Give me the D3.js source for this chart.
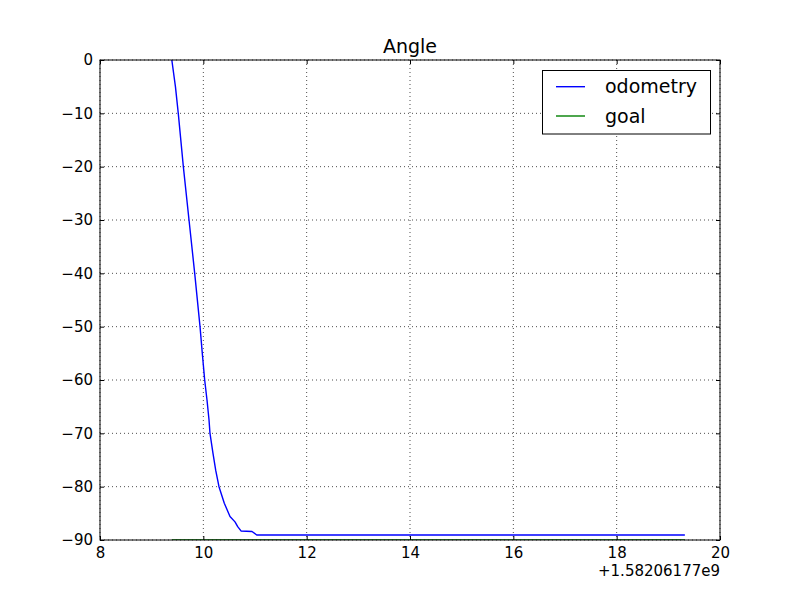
<!DOCTYPE html>
<html>
<head>
<meta charset="utf-8">
<script src="https://cdn.jsdelivr.net/npm/d3@7"></script>
<style>
  body { margin: 0; background: #fff; }
  svg { display: block; }
  text { font-family: "DejaVu Sans", sans-serif; fill: #000; }
</style>
</head>
<body>
<script>
// Data (time offsets relative to 1.58206177e9)
const odomTime  = [9.39, 9.46, 9.515, 9.613, 9.723, 9.833, 9.936, 9.98, 10.026, 10.071, 10.110, 10.129, 10.187, 10.239, 10.303, 10.406, 10.516, 10.613, 10.665, 10.729, 10.942, 11.033, 19.32];
const odomAngle = [0, -5, -10, -20, -30, -40, -50, -55, -60, -63.75, -67.5, -70, -73.75, -76.9, -80, -83.1, -85.6, -86.6, -87.5, -88.3, -88.4, -89.06, -89.06];
const goalTime  = [9.39, 19.32];
const goalAngle = [-90, -90];
const xTicks = [8, 10, 12, 14, 16, 18, 20];
const yTicks = [0, -10, -20, -30, -40, -50, -60, -70, -80, -90];
const seriesNames = ["odometry", "goal"];
const seriesColors = ["#0000ff", "#008000"];
const titleText = "Angle";
const offsetText = "+1.58206177e9";

const W = 800, H = 600;
const m = { left: 100, right: 720, top: 60, bottom: 540 };

const svg = d3.select("body").append("svg").attr("width", W).attr("height", H);

const x = d3.scaleLinear().domain([8, 20]).range([m.left, m.right]);
const y = d3.scaleLinear().domain([-90, 0]).range([m.bottom, m.top]);

svg.append("defs").append("clipPath").attr("id", "clip")
  .append("rect").attr("x", m.left).attr("y", m.top)
  .attr("width", m.right - m.left).attr("height", m.bottom - m.top);

// Grid
const grid = svg.append("g");
xTicks.forEach(t => {
  grid.append("line").attr("x1", x(t)).attr("x2", x(t)).attr("y1", m.top).attr("y2", m.bottom)
    .attr("stroke", "#000").attr("stroke-width", 0.7).attr("stroke-dasharray", "1,3");
});
yTicks.forEach(t => {
  grid.append("line").attr("x1", m.left).attr("x2", m.right).attr("y1", y(t)).attr("y2", y(t))
    .attr("stroke", "#000").attr("stroke-width", 0.7).attr("stroke-dasharray", "1,3");
});

// Lines
const line = d3.line().x(d => x(d[0])).y(d => y(d[1]));
const odom = odomTime.map((t, i) => [t, odomAngle[i]]);
const goal = goalTime.map((t, i) => [t, goalAngle[i]]);
const plot = svg.append("g").attr("clip-path", "url(#clip)");
plot.append("path").datum(odom).attr("d", line).attr("fill", "none")
  .attr("stroke", seriesColors[0]).attr("stroke-width", 1.4).attr("stroke-linejoin", "round");
plot.append("path").datum(goal).attr("d", line).attr("fill", "none")
  .attr("stroke", seriesColors[1]).attr("stroke-width", 1.4);

// Axes with inward ticks (all four sides)
const fs = 15;
const xAxisB = d3.axisBottom(x).tickValues(xTicks).tickSizeInner(-4).tickSizeOuter(0).tickPadding(7).tickFormat(d3.format("d"));
const xAxisT = d3.axisTop(x).tickValues(xTicks).tickSizeInner(-4).tickSizeOuter(0).tickFormat("");
const yAxisL = d3.axisLeft(y).tickValues(yTicks).tickSizeInner(-4).tickSizeOuter(0).tickPadding(7)
  .tickFormat(d => d < 0 ? "\u2212" + Math.abs(d) : String(d));
const yAxisR = d3.axisRight(y).tickValues(yTicks).tickSizeInner(-4).tickSizeOuter(0).tickFormat("");

function style(g) {
  g.select(".domain").remove();
  g.selectAll(".tick line").attr("stroke", "#000").attr("stroke-width", 1);
  g.selectAll(".tick text").attr("font-size", fs).attr("font-family", "DejaVu Sans").attr("fill", "#000");
}
svg.append("g").attr("transform", `translate(0,${m.bottom})`).call(xAxisB).call(style);
svg.append("g").attr("transform", `translate(0,${m.top})`).call(xAxisT).call(style);
svg.append("g").attr("transform", `translate(${m.left},0)`).call(yAxisL).call(style);
svg.append("g").attr("transform", `translate(${m.right},0)`).call(yAxisR).call(style);

// Frame
svg.append("rect").attr("x", m.left).attr("y", m.top)
  .attr("width", m.right - m.left).attr("height", m.bottom - m.top)
  .attr("fill", "none").attr("stroke", "#000").attr("stroke-width", 1);

// Offset text
svg.append("text").attr("x", m.right).attr("y", 576).attr("text-anchor", "end")
  .attr("font-size", fs).text(offsetText);

// Title
svg.append("text").attr("x", (m.left + m.right) / 2).attr("y", 53).attr("text-anchor", "middle")
  .attr("font-size", 19).text(titleText);

// Legend
const lg = svg.append("g");
lg.append("rect").attr("x", 542.5).attr("y", 70.5).attr("width", 168).attr("height", 63.5)
  .attr("fill", "#fff").attr("stroke", "#000").attr("stroke-width", 1);
const legendY = [86.7, 116];
seriesNames.forEach((n, i) => {
  lg.append("line").attr("x1", 556).attr("x2", 585).attr("y1", legendY[i]).attr("y2", legendY[i])
    .attr("stroke", seriesColors[i]).attr("stroke-width", 1.4);
  lg.append("text").attr("x", 605).attr("y", legendY[i] + 6.5).attr("font-size", 19).text(n);
});
</script>
</body>
</html>
